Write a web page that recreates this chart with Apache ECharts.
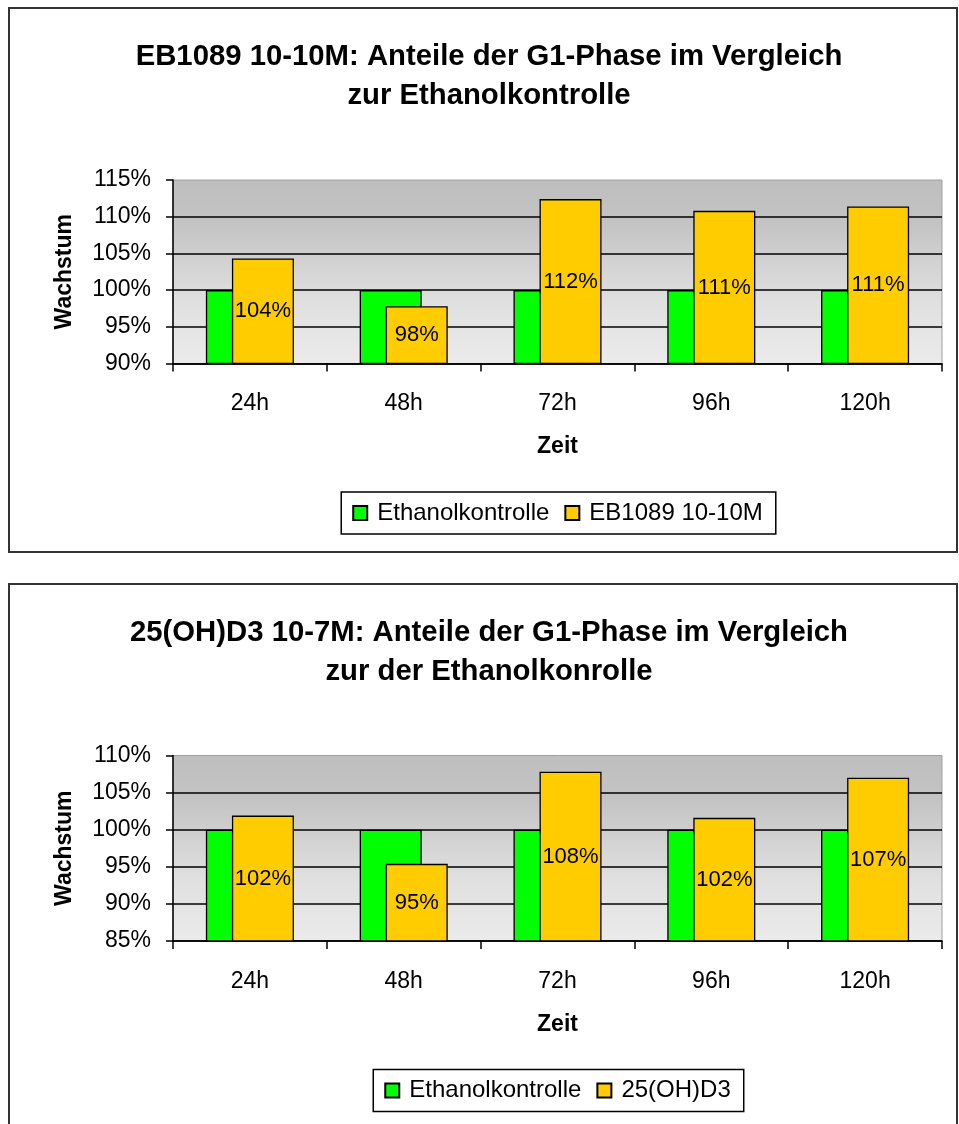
<!DOCTYPE html>
<html>
<head>
<meta charset="utf-8">
<script src="https://cdn.jsdelivr.net/npm/echarts/dist/echarts.min.js"></script>
<style>
  html, body { margin: 0; padding: 0; background: #fff; }
  #chart { width: 959px; height: 1124px; }
</style>
</head>
<body>
<div id="chart"></div>
<script>
// Shared categories and control series name
const categories = ['24h', '48h', '72h', '96h', '120h'];
const controlName = 'Ethanolkontrolle';

// Upper panel: EB1089 10-10M
const titleA = 'EB1089 10-10M: Anteile der G1-Phase im Vergleich\nzur Ethanolkontrolle';
const seriesNameA = 'EB1089 10-10M';
const controlA = [100, 100, 100, 100, 100];
const valuesA = [104.3, 97.8, 112.4, 110.8, 111.4];
const yTicksA = [90, 95, 100, 105, 110, 115];

// Lower panel: 25(OH)D3 10-7M
const titleB = '25(OH)D3 10-7M: Anteile der G1-Phase im Vergleich\nzur der Ethanolkonrolle';
const seriesNameB = '25(OH)D3';
const controlB = [100, 100, 100, 100, 100];
const valuesB = [101.9, 95.4, 107.8, 101.6, 107.0];
const yTicksB = [85, 90, 95, 100, 105, 110];

const FONT = '"Liberation Sans", Arial, Helvetica, sans-serif';
const measureCtx = document.createElement('canvas').getContext('2d');
function textWidth(t, size, bold) {
  measureCtx.font = (bold ? 'bold ' : '') + size + 'px ' + FONT;
  return measureCtx.measureText(t).width;
}

const PLOT_LEFT = 173, PLOT_WIDTH = 769;
const LEGEND_FS = 24, LEGEND_ICON = 14, LEGEND_GAP = 15, LEGEND_PAD = [9, 13, 9, 11], LEGEND_TXT_PAD = 5;

const option = {
  animation: false,
  backgroundColor: '#fff',
  title: [], legend: [], grid: [], xAxis: [], yAxis: [], series: [], graphic: []
};

function addPanel(idx, oy, title, seriesName, control, values, yTicks, gridTop, gridHeight) {
  // frame around the panel
  option.graphic.push({
    type: 'rect', silent: true, z: 100,
    shape: { x: 9, y: 8 + oy, width: 948, height: 544 },
    style: { fill: null, stroke: '#333', lineWidth: 2 }
  });

  option.title.push({
    text: title, left: 489, top: 37 + oy, textAlign: 'center', padding: 0,
    textStyle: { fontFamily: FONT, fontSize: 29.3, fontWeight: 'bold', lineHeight: 39, color: '#000' }
  });

  option.grid.push({
    left: PLOT_LEFT, top: gridTop, width: PLOT_WIDTH, height: gridHeight,
    outerBoundsMode: 'none', containLabel: false,
    show: true, borderColor: '#a0a0a0', borderWidth: 1,
    backgroundColor: new echarts.graphic.LinearGradient(0, 0, 0, 1, [
      { offset: 0, color: '#bebebe' },
      { offset: 0.25, color: '#c4c4c4' },
      { offset: 0.45, color: '#d2d2d2' },
      { offset: 0.65, color: '#dfdfdf' },
      { offset: 0.85, color: '#e6e6e6' },
      { offset: 1, color: '#ebebeb' }
    ])
  });

  option.xAxis.push({
    type: 'category', gridIndex: idx, data: categories, boundaryGap: true,
    axisLine: { show: true, lineStyle: { color: '#000', width: 1.5 } },
    axisTick: { show: true, length: 8, alignWithLabel: false, interval: 0, lineStyle: { color: '#000', width: 1.5 } },
    axisLabel: { fontFamily: FONT, fontSize: 23, color: '#000', margin: 29, interval: 0 },
    splitLine: { show: false },
    name: 'Zeit', nameLocation: 'middle', nameGap: 72,
    nameTextStyle: { fontFamily: FONT, fontSize: 23, fontWeight: 'bold', color: '#000' }
  });

  option.yAxis.push({
    type: 'value', gridIndex: idx,
    min: yTicks[0], max: yTicks[yTicks.length - 1], interval: yTicks[1] - yTicks[0],
    axisLine: { show: true, lineStyle: { color: '#000', width: 1.5 } },
    axisTick: { show: true, length: 7, lineStyle: { color: '#000', width: 1.5 } },
    axisLabel: { formatter: '{value}%', fontFamily: FONT, fontSize: 23, color: '#000', margin: 22 },
    splitLine: { show: true, showMaxLine: false, lineStyle: { color: '#000', width: 1.6 } },
    name: 'Wachstum', nameLocation: 'middle', nameRotate: 90, nameGap: 97,
    nameTextStyle: { fontFamily: FONT, fontSize: 23, fontWeight: 'bold', color: '#000' }
  });

  option.series.push({
    type: 'bar', name: controlName, xAxisIndex: idx, yAxisIndex: idx, data: control,
    barWidth: 62, barGap: '-58%',
    itemStyle: { color: '#00ff00', borderColor: '#000', borderWidth: 1.3 }
  });
  option.series.push({
    type: 'bar', name: seriesName, xAxisIndex: idx, yAxisIndex: idx, data: values,
    barWidth: 62, barGap: '-58%',
    itemStyle: { color: '#ffcc00', borderColor: '#000', borderWidth: 1.3 },
    label: {
      show: true, position: 'inside', color: '#000', fontFamily: FONT, fontSize: 22,
      formatter: p => Math.round(p.value) + '%'
    }
  });

  // legend box centred under the plot
  const names = [controlName, seriesName];
  let w = LEGEND_PAD[1] + LEGEND_PAD[3] + LEGEND_GAP * (names.length - 1);
  names.forEach(n => { w += LEGEND_ICON + 5 + LEGEND_TXT_PAD + textWidth(n, LEGEND_FS, false); });
  const axisBottom = gridTop + gridHeight;
  option.legend.push({
    data: names,
    left: PLOT_LEFT + PLOT_WIDTH / 2 - w / 2, top: axisBottom + 128.5,
    orient: 'horizontal', icon: 'rect',
    itemWidth: LEGEND_ICON, itemHeight: LEGEND_ICON, itemGap: LEGEND_GAP,
    padding: LEGEND_PAD, borderColor: '#000', borderWidth: 1.5, backgroundColor: '#fff',
    selectedMode: false,
    textStyle: { fontFamily: FONT, fontSize: LEGEND_FS, color: '#000', padding: [0, 0, 0, LEGEND_TXT_PAD] }
  });
}

addPanel(0, 0, titleA, seriesNameA, controlA, valuesA, yTicksA, 180, 183.5);
addPanel(1, 576, titleB, seriesNameB, controlB, valuesB, yTicksB, 755.5, 185.5);

const chart = echarts.init(document.getElementById('chart'), null, { renderer: 'canvas' });
chart.setOption(option);
</script>
</body>
</html>
